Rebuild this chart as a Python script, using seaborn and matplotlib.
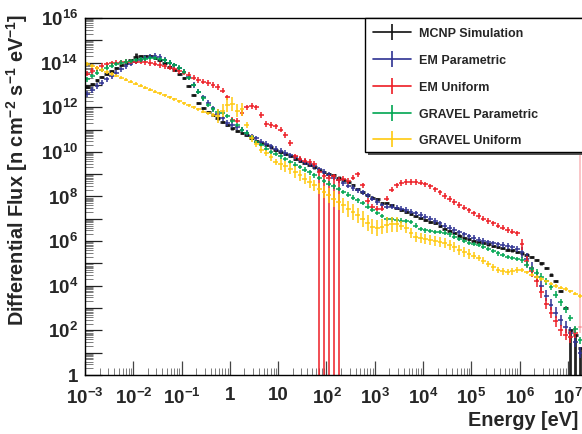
import numpy as np
import pandas as pd
import matplotlib
matplotlib.use("Agg")
import matplotlib.pyplot as plt
import seaborn as sns
from matplotlib.lines import Line2D
from matplotlib.patches import Rectangle
from matplotlib.ticker import FixedLocator, FixedFormatter, NullFormatter

# ---------------- data (log10 of flux per energy bin, 10 bins / decade from 1e-3 eV) -------------
series_names = ["MCNP Simulation", "EM Parametric", "EM Uniform",
                "GRAVEL Parametric", "GRAVEL Uniform"]

mcnp = [12.9, 13.05, 13.2, 13.35, 13.5, 13.62, 13.75, 13.88, 13.98, 14.1,
        14.25, 14.3, 14.3, 14.28, 14.22, 14.12, 13.98, 13.82, 13.68, 13.5,
        13.3, 12.95, 12.55, 12.2, 11.95, 11.8, 11.65, 11.5, 11.35, 11.2,
        11.05, 10.95, 10.85, 10.75, 10.62, 10.5, 10.4, 10.3, 10.2, 10.1,
        10.0, 9.9, 9.8, 9.7, 9.6, 9.5, 9.4, 9.3, 9.2, 9.1,
        9.0, 8.95, 8.85, 8.75, 8.65, 8.5, 8.35, 8.2, 8.05, 7.95,
        7.9, 7.7, 7.7, 7.6, 7.5, 7.4, 7.3, 7.2, 7.12, 7.05,
        6.95, 6.87, 6.8, 6.7, 6.55, 6.45, 6.35, 6.25, 6.15, 6.08,
        6.02, 5.97, 5.92, 5.85, 5.78, 5.72, 5.68, 5.62, 5.58, 5.52,
        5.45, 5.4, 5.3, 5.15, 5.0, 4.8, 4.5, 4.2, 3.75, 3.0,
        2.0, 1.8, 1.2]

em_param = [12.6, 12.78, 12.95, 13.1, 13.25, 13.4, 13.55, 13.7, 13.83, 13.95,
            14.05, 14.13, 14.2, 14.27, 14.3, 14.25, 14.12, 14.0, 13.88, 13.75,
            13.6, 13.35, 13.0, 12.7, 12.45, 12.2, 11.95, 11.7, 11.5, 11.3,
            11.2, 11.1, 11.0, 10.85, 10.7, 10.6, 10.45, 10.35, 10.25, 10.15,
            10.05, 9.95, 9.85, 9.75, 9.65, 9.55, 9.45, 9.35, 9.22, 9.1,
            8.98, 8.85, 8.72, 8.6, 8.48, 8.38, 8.28, 8.18, 8.05, 7.9,
            7.75, 7.6, 7.55, 7.55, 7.5, 7.45, 7.4, 7.32, 7.25, 7.17,
            7.1, 7.0, 6.9, 6.8, 6.7, 6.6, 6.5, 6.4, 6.3, 6.22,
            6.15, 6.07, 6.0, 5.95, 5.9, 5.85, 5.82, 5.78, 5.72, 5.65,
            5.5, 5.2, 4.8, 4.4, 4.0, 3.55, 3.15, 2.8, 2.45, 2.15,
            1.9, 1.5, 1.0]

em_uniform = [13.5, 13.62, 13.75, 13.85, 13.92, 13.97, 14.0, 14.02, 14.04, 14.05,
              14.05, 14.04, 14.02, 13.99, 13.95, 13.9, 13.84, 13.78, 13.7, 13.62,
              13.55, 13.45, 13.32, 13.22, 13.15, 13.08, 13.0, 12.9, 12.75, 12.45,
              11.45, 11.4, 11.75, 12.0, 12.05, 12.0, 11.65, 11.25, 11.2, 11.15,
              11.0, 10.75, 10.4, 9.8, 9.7, 9.6, 9.55, 9.45, 9.1, 8.9,
              8.85, 8.9, 8.75, 8.8, 8.7, 8.85, 9.0, 8.5, 7.8, 7.55,
              7.45, 7.45, 7.9, 8.3, 8.5, 8.6, 8.65, 8.65, 8.65, 8.62,
              8.55, 8.45, 8.32, 8.18, 8.02, 7.88, 7.75, 7.62, 7.5, 7.38,
              7.25, 7.12, 7.0, 6.9, 6.8, 6.7, 6.6, 6.5, 6.42, 6.35,
              5.85, 5.1, 4.65, 4.2, 3.7, 3.2, 2.8, 2.4, 2.0, 1.8,
              1.7, 1.9, 2.15]

gravel_param = [13.25, 13.4, 13.55, 13.68, 13.78, 13.87, 13.95, 14.0, 14.05, 14.08,
                14.12, 14.15, 14.18, 14.2, 14.2, 14.17, 14.1, 14.0, 13.9, 13.78,
                13.6, 13.3, 13.0, 12.7, 12.4, 12.1, 11.9, 11.8, 11.75, 11.6,
                11.4, 11.2, 11.0, 10.85, 10.65, 10.45, 10.3, 10.15, 10.0, 9.9,
                9.8, 9.68, 9.55, 9.43, 9.32, 9.2, 9.08, 8.95, 8.82, 8.7,
                8.58, 8.45, 8.33, 8.2, 8.08, 7.95, 7.83, 7.7, 7.55, 7.4,
                7.25, 7.12, 7.0, 6.97, 6.95, 6.92, 6.9, 6.85, 6.7, 6.55,
                6.48, 6.45, 6.42, 6.4, 6.38, 6.3, 6.2, 6.1, 6.0, 5.92,
                5.88, 5.83, 5.75, 5.65, 5.55, 5.45, 5.38, 5.3, 5.25, 5.2,
                5.15, 4.95, 4.75, 4.58, 4.4, 4.2, 3.95, 3.6, 3.25, 2.95,
                2.55, 2.05, 1.55]

gravel_uniform = [13.95, 13.86, 13.77, 13.68, 13.59, 13.5, 13.42, 13.33, 13.24, 13.15,
                  13.06, 12.97, 12.88, 12.79, 12.7, 12.62, 12.53, 12.44, 12.35, 12.26,
                  12.17, 12.08, 11.99, 11.9, 11.8, 11.72, 11.64, 11.6, 11.85, 12.1,
                  12.15, 11.85, 11.9, 11.2, 10.6, 10.35, 10.1, 9.95, 9.75, 9.55,
                  9.45, 9.35, 9.25, 9.1, 8.95, 8.8, 8.65, 8.5, 8.35, 8.2,
                  8.05, 7.9, 7.75, 7.6, 7.45, 7.3, 7.15, 7.0, 6.8, 6.65,
                  6.6, 6.65, 6.72, 6.75, 6.75, 6.7, 6.6, 6.35, 6.2, 6.15,
                  6.1, 6.05, 6.0, 5.95, 5.9, 5.82, 5.72, 5.62, 5.52, 5.44,
                  5.35, 5.25, 5.12, 4.98, 4.82, 4.7, 4.65, 4.62, 4.65, 4.7,
                  4.7, 4.6, 4.5, 4.4, 4.3, 4.2, 4.1, 4.0, 3.92, 3.85,
                  3.75, 3.65, 3.55]

# symmetric errors in dex
mcnp_err = [0.05] * 10 + [0.2] + [0.05] * 92
em_param_err = [0.12] * 90 + [0.25] * 13
em_uniform_err = [0.12] * 90 + [0.25] * 13
gravel_param_err = [0.1] * 90 + [0.15] * 13
gravel_uniform_err = ([0.08] * 27 + [0.3] * 6 + [0.15] * 7 + [0.25] * 10 +
                      [0.35] * 15 + [0.22] * 15 + [0.15] * 10 + [0.08] * 13)

# bins whose lower error reaches zero flux, and bins with a huge upper error
mcnp_to_zero = [100, 101, 102]
em_uniform_to_zero = [48, 49, 50, 51, 52]
em_uniform_huge_up = [102]

x_ticks = [1e-3, 1e-2, 1e-1, 1, 10, 1e2, 1e3, 1e4, 1e5, 1e6, 1e7]
x_tick_labels = ["$10^{-3}$", "$10^{-2}$", "$10^{-1}$", "1", "10", "$10^{2}$",
                 "$10^{3}$", "$10^{4}$", "$10^{5}$", "$10^{6}$", "$10^{7}$"]
y_exponents = list(range(0, 17))

colors = {"MCNP Simulation": "#111111", "EM Parametric": "#2e3192",
          "EM Uniform": "#ed1c24", "GRAVEL Parametric": "#00a651",
          "GRAVEL Uniform": "#ffc90e"}

# ---------------- build table ----------------
values = [mcnp, em_param, em_uniform, gravel_param, gravel_uniform]
errors = [mcnp_err, em_param_err, em_uniform_err, gravel_param_err, gravel_uniform_err]
to_zero = [mcnp_to_zero, [], em_uniform_to_zero, [], []]
huge_up = [[], [], em_uniform_huge_up, [], []]

rows = []
for name, vals, errs, tz, hu in zip(series_names, values, errors, to_zero, huge_up):
    for i, (v, e) in enumerate(zip(vals, errs)):
        lo_edge = -3.0 + 0.1 * i
        rows.append(dict(series=name, loge_lo=lo_edge, loge_hi=lo_edge + 0.1,
                         logf=v, err_lo=(30.0 if i in tz else e),
                         err_hi=(20.0 if i in hu else e), faint=(i in hu)))
df = pd.DataFrame(rows)
df["energy"] = 10 ** ((df.loge_lo + df.loge_hi) / 2)
df["flux"] = 10 ** df.logf

# ---------------- style ----------------
sns.set_theme(style="ticks")
plt.rcParams["font.family"] = ["Liberation Sans", "DejaVu Sans"]
plt.rcParams["font.weight"] = "bold"
plt.rcParams["mathtext.fontset"] = "custom"
for k in ["rm", "bf", "it", "sf"]:
    plt.rcParams["mathtext." + k] = "Liberation Sans:bold"
plt.rcParams["mathtext.default"] = "rm"

W, H = 582, 434
fig = plt.figure(figsize=(W / 100, H / 100), dpi=100)
ax = fig.add_axes([85 / W, (H - 375) / H, 497.5 / W, 357 / H])
ax.set_facecolor("white")

lws = {"MCNP Simulation": 2.0}
for name in series_names:
    for faint, d in df[df.series == name].groupby("faint"):
        x = d.energy.values
        y = d.flux.values
        xlo = x - 10 ** d.loge_lo.values
        xhi = 10 ** d.loge_hi.values - x
        ylo = y - 10 ** (d.logf.values - d.err_lo.values)
        yhi = 10 ** (d.logf.values + d.err_hi.values) - y
        ax.errorbar(x, y, xerr=[xlo, xhi], yerr=[ylo, yhi], fmt="none",
                    ecolor=colors[name], elinewidth=lws.get(name, 1.2), capsize=0,
                    alpha=(0.3 if faint else 0.92))

ax.set_xscale("log")
ax.set_yscale("log")
ax.set_xlim(1e-3, 2e7)
ax.set_ylim(1, 1e16)

ax.xaxis.set_major_locator(FixedLocator(x_ticks))
ax.xaxis.set_major_formatter(FixedFormatter(x_tick_labels))
xminor = [m * 10.0 ** p for p in range(-3, 8) for m in range(2, 10)]
ax.xaxis.set_minor_locator(FixedLocator(xminor))
ax.xaxis.set_minor_formatter(NullFormatter())

ax.yaxis.set_major_locator(FixedLocator([10.0 ** p for p in y_exponents]))
ax.yaxis.set_major_formatter(FixedFormatter(
    ["1" if p == 0 else ("$10^{%d}$" % p if p % 2 == 0 else "") for p in y_exponents]))
yminor = [m * 10.0 ** p for p in range(0, 16) for m in range(2, 10)]
ax.yaxis.set_minor_locator(FixedLocator(yminor))
ax.yaxis.set_minor_formatter(NullFormatter())

ax.tick_params(axis="y", which="major", direction="in", length=12, width=0.9,
               labelsize=13.5, pad=5, color="#222222", left=True, right=False)
ax.tick_params(axis="y", which="minor", direction="in", length=6, width=0.6,
               color="#666666", left=True, right=False)
ax.tick_params(axis="x", which="major", direction="in", length=10, width=0.9,
               labelsize=13.5, pad=9, color="#444444", bottom=True, top=False)
ax.tick_params(axis="x", which="minor", direction="in", length=5, width=0.6,
               color="#666666", bottom=True, top=False)
for s in ax.spines.values():
    s.set_color("black")
    s.set_linewidth(1.0)
ax.spines["right"].set_visible(False)

ax.set_xlabel("Energy [eV]", fontsize=14.3, fontweight="bold")
ax.xaxis.set_label_coords((578 - 85) / 497.5, (375 - 411) / 357)
ax.xaxis.label.set_horizontalalignment("right")
ax.set_ylabel("Differential Flux [n cm$^{-2}$ s$^{-1}$ eV$^{-1}$]",
              fontsize=14.3, fontweight="bold")
ax.yaxis.set_label_coords((24 - 85) / 497.5, (375 - 14) / 357)
ax.yaxis.label.set_horizontalalignment("right")
ax.yaxis.label.set_verticalalignment("baseline")

# ---------------- legend ----------------
shadow = Rectangle((368 / W, (H - 155) / H), 240 / W, 134 / H, transform=fig.transFigure,
                   facecolor="#555555", edgecolor="none", zorder=5)
box = Rectangle((365 / W, (H - 152) / H), 240 / W, 134 / H, transform=fig.transFigure,
                facecolor="white", edgecolor="black", linewidth=1.0, zorder=6)
fig.add_artist(shadow)
fig.add_artist(box)
handles = [(Line2D([], [], color=colors[n], lw=1.2),
            Line2D([], [], color=colors[n], marker="|", ms=11, mew=1.2, ls="none"))
           for n in series_names]
leg = fig.legend(handles, series_names, loc="upper left",
                 bbox_to_anchor=(373 / W, 1 - 27 / H), bbox_transform=fig.transFigure,
                 frameon=False, handlelength=3.0, handletextpad=0.65,
                 handleheight=1.0, labelspacing=1.12, borderpad=0, borderaxespad=0,
                 numpoints=1, prop={"weight": "bold", "size": 9})
leg.set_zorder(7)

fig.savefig("out.png", dpi=100, facecolor="white")
